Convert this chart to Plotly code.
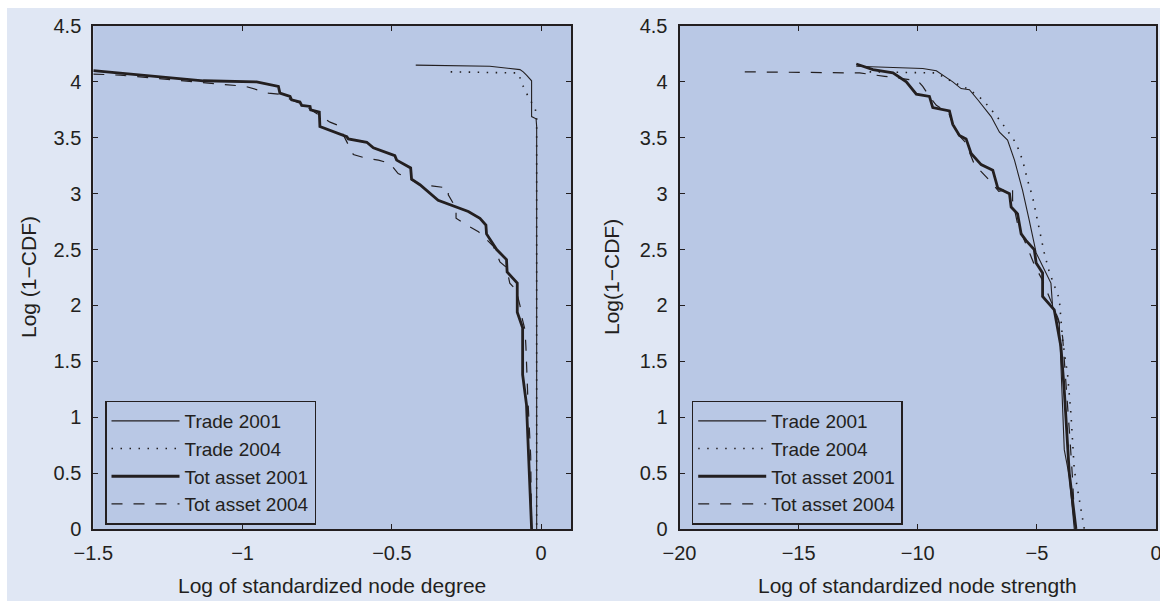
import plotly.graph_objects as go

# ---------------- data: left panel (node degree) ----------------
trade01_deg_x = [-0.420, -0.172, -0.071, -0.060, -0.049, -0.032, -0.032, -0.017, -0.015, -0.015]
trade01_deg_y = [4.15, 4.14, 4.11, 4.09, 4.06, 4.01, 3.69, 3.67, 3.60, 0.0]

trade04_deg_x = [-0.303, -0.077, -0.060, -0.040, -0.021, -0.015, -0.015]
trade04_deg_y = [4.09, 4.08, 3.96, 3.85, 3.77, 3.70, 0.0]

asset01_deg_x = [-1.5, -1.132, -0.953, -0.880, -0.875, -0.841, -0.836, -0.808, -0.802, -0.774,
                 -0.772, -0.743, -0.741, -0.651, -0.646, -0.584, -0.562, -0.490, -0.484, -0.437,
                 -0.434, -0.406, -0.345, -0.283, -0.244, -0.205, -0.185, -0.183, -0.149, -0.116,
                 -0.114, -0.080, -0.080, -0.062, -0.062, -0.049, -0.032]
asset01_deg_y = [4.10, 4.01, 4.00, 3.96, 3.90, 3.87, 3.84, 3.82, 3.79, 3.78,
                 3.75, 3.73, 3.60, 3.51, 3.49, 3.46, 3.41, 3.34, 3.30, 3.23,
                 3.13, 3.08, 2.94, 2.88, 2.84, 2.78, 2.72, 2.64, 2.50, 2.41,
                 2.30, 2.20, 1.94, 1.80, 1.38, 1.11, 0.0]

asset04_deg_x = [-1.5, -1.41, -1.076, -0.99, -0.914, -0.880, -0.80, -0.707, -0.679, -0.629,
                 -0.590, -0.545, -0.506, -0.479, -0.445, -0.406, -0.367, -0.311, -0.311, -0.285,
                 -0.285, -0.244, -0.21, -0.177, -0.16, -0.138, -0.116, -0.105, -0.084, -0.071,
                 -0.065, -0.054, -0.051, -0.045, -0.040, -0.035, -0.032]
asset04_deg_y = [4.07, 4.06, 3.98, 3.96, 3.90, 3.89, 3.80, 3.64, 3.61, 3.35,
                 3.32, 3.30, 3.27, 3.18, 3.14, 3.08, 3.07, 3.05, 2.99, 2.87,
                 2.78, 2.71, 2.66, 2.57, 2.53, 2.39, 2.34, 2.20, 2.14, 2.00,
                 1.90, 1.78, 1.63, 1.20, 0.89, 0.65, 0.0]

# ---------------- data: right panel (node strength) ----------------
trade01_str_x = [-12.58, -9.79, -9.22, -8.53, -8.18, -7.83, -7.48, -6.92, -6.57, -6.23,
                 -5.94, -5.60, -5.32, -5.11, -5.03, -4.41, -4.34, -4.06, -3.85, -3.64, -3.43]
trade01_str_y = [4.14, 4.12, 4.10, 4.00, 3.94, 3.93, 3.84, 3.69, 3.55, 3.48,
                 3.30, 3.03, 2.76, 2.53, 2.47, 2.20, 1.99, 1.84, 0.71, 0.47, 0.0]

trade04_str_x = [-12.02, -9.22, -8.53, -7.83, -7.27, -6.71, -6.29, -5.87, -5.60, -5.39,
                 -5.18, -5.01, -4.83, -4.69, -4.48, -4.06, -3.92, -3.71, -3.57, -3.43,
                 -3.36, -3.15, -3.01]
trade04_str_y = [4.09, 4.08, 4.00, 3.93, 3.84, 3.70, 3.58, 3.45, 3.30, 3.12,
                 2.97, 2.79, 2.63, 2.47, 2.30, 2.06, 1.69, 1.38, 1.03, 0.53,
                 0.44, 0.19, 0.0]

asset01_str_x = [-12.58, -11.88, -11.04, -10.48, -10.06, -9.51, -9.37, -8.67, -8.53, -8.25,
                 -7.97, -7.76, -7.34, -6.85, -6.64, -6.15, -6.08, -5.81, -5.66, -5.45,
                 -5.11, -5.03, -4.76, -4.76, -4.27, -3.99, -3.85, -3.64, -3.36]
asset01_str_y = [4.16, 4.11, 4.08, 4.00, 3.89, 3.87, 3.77, 3.74, 3.62, 3.52,
                 3.49, 3.36, 3.26, 3.21, 3.05, 3.00, 2.88, 2.82, 2.64, 2.58,
                 2.50, 2.38, 2.29, 2.08, 1.96, 1.63, 1.24, 0.50, 0.0]

asset04_str_x = [-17.26, -12.44, -11.39, -10.6, -10.0, -9.79, -9.51, -9.22, -8.7, -8.4,
                 -8.0, -7.62, -6.99, -6.6, -6.02, -6.02, -5.8, -5.4, -5.1, -4.8,
                 -4.35, -4.1, -3.92, -3.71, -3.61, -3.50, -3.40]
asset04_str_y = [4.09, 4.08, 4.05, 4.03, 4.01, 3.96, 3.87, 3.79, 3.72, 3.55,
                 3.46, 3.26, 3.12, 3.02, 3.05, 2.94, 2.72, 2.52, 2.36, 2.24,
                 2.00, 1.88, 1.72, 1.15, 0.80, 0.44, 0.0]

series_names = ["Trade 2001", "Trade 2004", "Tot asset 2001", "Tot asset 2004"]
y_ticks = [0, 0.5, 1, 1.5, 2, 2.5, 3, 3.5, 4, 4.5]
x1_ticks = [-1.5, -1, -0.5, 0]
x2_ticks = [-20, -15, -10, -5, 0]

# ---------------- styling ----------------
INK = "#231f20"
PAGE = "#e0e7f4"
PLOT = "#b9c8e5"
FONT = "Liberation Sans, Arial, sans-serif"
W, H = 1160, 601

styles = [
    dict(width=1.1, dash="solid"),
    dict(width=1.6, dash="1.5px,7.5px"),
    dict(width=2.8, dash="solid"),
    dict(width=1.2, dash="11px,11px"),
]

fig = go.Figure()

left = [(trade01_deg_x, trade01_deg_y), (trade04_deg_x, trade04_deg_y),
        (asset01_deg_x, asset01_deg_y), (asset04_deg_x, asset04_deg_y)]
right = [(trade01_str_x, trade01_str_y), (trade04_str_x, trade04_str_y),
         (asset01_str_x, asset01_str_y), (asset04_str_x, asset04_str_y)]

for (xs, ys), name, st in zip(left, series_names, styles):
    fig.add_trace(go.Scatter(x=xs, y=ys, mode="lines", name=name,
                             line=dict(color=INK, width=st["width"], dash=st["dash"]),
                             xaxis="x", yaxis="y", legend="legend"))
for (xs, ys), name, st in zip(right, series_names, styles):
    fig.add_trace(go.Scatter(x=xs, y=ys, mode="lines", name=name,
                             line=dict(color=INK, width=st["width"], dash=st["dash"]),
                             xaxis="x2", yaxis="y2", legend="legend2"))

ax_common = dict(showline=True, linecolor=INK, linewidth=2, mirror="allticks",
                 ticks="inside", ticklen=5, tickwidth=1.2, tickcolor=INK,
                 showgrid=False, zeroline=False, automargin=False,
                 ticklabeloverflow="allow",
                 tickfont=dict(family=FONT, size=20, color=INK))

x1_dom = [93.3 / W, 571 / W]
x2_dom = [679.5 / W, 1156 / W]
y_dom = [1 - 529 / H, 1 - 26 / H]

legend_common = dict(bgcolor="rgba(0,0,0,0)", bordercolor=INK, borderwidth=1.5,
                     font=dict(family=FONT, size=19, color=INK), tracegroupgap=0,
                     xanchor="left", yanchor="middle", itemwidth=68)

TITLE_FONT = dict(family=FONT, size=21, color=INK)

fig.update_layout(
    width=W, height=H,
    margin=dict(l=0, r=0, t=0, b=0),
    paper_bgcolor=PAGE, plot_bgcolor=PLOT,
    showlegend=True,
    xaxis=dict(domain=x1_dom, range=[-1.5, 0.1], tickvals=x1_ticks, anchor="y",
               ticklabelstandoff=5, **ax_common),
    yaxis=dict(domain=y_dom, range=[0, 4.5], tickvals=y_ticks, anchor="x",
               ticklabelstandoff=6, **ax_common),
    xaxis2=dict(domain=x2_dom, range=[-20, 0], tickvals=x2_ticks, anchor="y2",
                ticklabelstandoff=5, **ax_common),
    yaxis2=dict(domain=y_dom, range=[0, 4.5], tickvals=y_ticks, anchor="x2",
                ticklabelstandoff=6, **ax_common),
    legend=dict(x=105 / W, y=1 - 462.5 / H, **legend_common),
    legend2=dict(x=691.7 / W, y=1 - 462.5 / H, **legend_common),
    shapes=[
        dict(type="rect", xref="paper", yref="paper", x0=0, x1=7 / W, y0=0, y1=1,
             fillcolor="white", line=dict(width=0), layer="below"),
        dict(type="rect", xref="paper", yref="paper", x0=0, x1=1, y0=1 - 8 / H, y1=1,
             fillcolor="white", line=dict(width=0), layer="below"),
    ],
    annotations=[
        dict(text="Log of standardized node degree", xref="paper", yref="paper",
             x=(93.3 + 571) / 2 / W, y=1 - 585 / H, showarrow=False,
             xanchor="center", yanchor="middle", font=TITLE_FONT),
        dict(text="Log of standardized node strength", xref="paper", yref="paper",
             x=(679.5 + 1156) / 2 / W, y=1 - 585 / H, showarrow=False,
             xanchor="center", yanchor="middle", font=TITLE_FONT),
        dict(text="Log (1\u2212CDF)", xref="paper", yref="paper",
             x=28 / W, y=1 - 277 / H, showarrow=False, textangle=-90,
             xanchor="center", yanchor="middle", font=TITLE_FONT),
        dict(text="Log(1\u2212CDF)", xref="paper", yref="paper",
             x=611 / W, y=1 - 277 / H, showarrow=False, textangle=-90,
             xanchor="center", yanchor="middle", font=TITLE_FONT),
    ],
)

fig.write_html("out.html")
